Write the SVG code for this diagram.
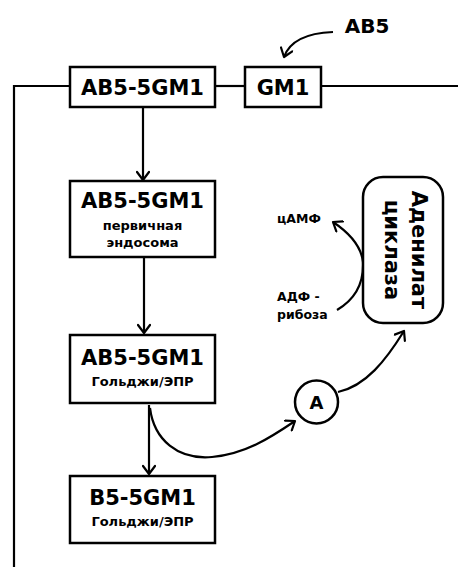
<svg xmlns="http://www.w3.org/2000/svg" width="458" height="567" viewBox="0 0 458 567">
<style>
.box{fill:#fff;stroke:#000;stroke-width:2.5}
.ln{fill:none;stroke:#000;stroke-width:2.2}
.t{font-family:"DejaVu Sans",sans-serif;font-weight:bold;fill:#000;text-anchor:middle}
.big{font-size:21px}
.sm{font-size:13px}
.lb{font-family:"DejaVu Sans",sans-serif;font-weight:bold;fill:#000;font-size:12.5px}
</style>
<defs>
<marker id="ah" markerWidth="14" markerHeight="14" viewBox="0 0 14 14" refX="11" refY="7" orient="auto" markerUnits="userSpaceOnUse">
<path d="M3,1 L11,7 L3,13" fill="none" stroke="#000" stroke-width="2.2" stroke-linecap="round" stroke-linejoin="round"/>
</marker>
</defs>
<rect width="458" height="567" fill="#fff"/>
<g id="connectors">
<path class="ln" d="M14,567 V86 H70"/>
<path class="ln" d="M215,86 H245"/>
<path class="ln" d="M321,86 H458"/>
<path class="ln" d="M143,107 V180" marker-end="url(#ah)"/>
<path class="ln" d="M144,257 V333" marker-end="url(#ah)"/>
<path class="ln" d="M149,405 V474" marker-end="url(#ah)"/>
<path class="ln" d="M150,408 C154,440 178,460 212,457 C245,454 270,438 295,421" marker-end="url(#ah)"/>
<path class="ln" d="M338,392 C366,386 386,360 404,331" marker-end="url(#ah)"/>
<path class="ln" d="M337,310 C354,300 364,285 363,262 C361,245 348,232 333,222" marker-end="url(#ah)"/>
<path class="ln" d="M333,32 C308,33 290,40 284,57" marker-end="url(#ah)"/>
</g>
<g id="node-ab5-label"><text class="t" x="367" y="33" style="font-size:20px">AB5</text></g>
<g id="node-ab5-5gm1-top">
<rect class="box" x="70" y="67" width="145" height="40"/>
<text class="t big" x="142.5" y="95">AB5-5GM1</text>
</g>
<g id="node-gm1">
<rect class="box" x="245" y="67" width="76" height="40"/>
<text class="t big" x="283" y="95">GM1</text>
</g>
<g id="node-endosome">
<rect class="box" x="70" y="181" width="145" height="76"/>
<text class="t big" x="142.5" y="208">AB5-5GM1</text>
<text class="t sm" x="142.5" y="230">первичная</text>
<text class="t sm" x="142.5" y="247">эндосома</text>
</g>
<g id="node-golgi1">
<rect class="box" x="70" y="335" width="145" height="68"/>
<text class="t big" x="142.5" y="365">AB5-5GM1</text>
<text class="t sm" x="142.5" y="386">Гольджи/ЭПР</text>
</g>
<g id="node-golgi2">
<rect class="box" x="70" y="476" width="145" height="67"/>
<text class="t big" x="142.5" y="505">B5-5GM1</text>
<text class="t sm" x="142.5" y="526">Гольджи/ЭПР</text>
</g>
<g id="node-a">
<circle cx="316.5" cy="402" r="21.5" fill="#fff" stroke="#000" stroke-width="2.5"/>
<text class="t" x="316.5" y="409" style="font-size:18px">A</text>
</g>
<g id="node-cyclase">
<rect class="box" x="363" y="177" width="80" height="146" rx="20"/>
<text class="t" transform="translate(412,250) rotate(90)" style="font-size:21px">Аденилат</text>
<text class="t" transform="translate(385,250) rotate(90)" style="font-size:21px">циклаза</text>
</g>
<g id="node-camp"><text class="lb" x="277" y="223">цАМФ</text></g>
<g id="node-adp"><text class="lb" x="277" y="301">АДФ -</text><text class="lb" x="277" y="319">рибоза</text></g>
</svg>
